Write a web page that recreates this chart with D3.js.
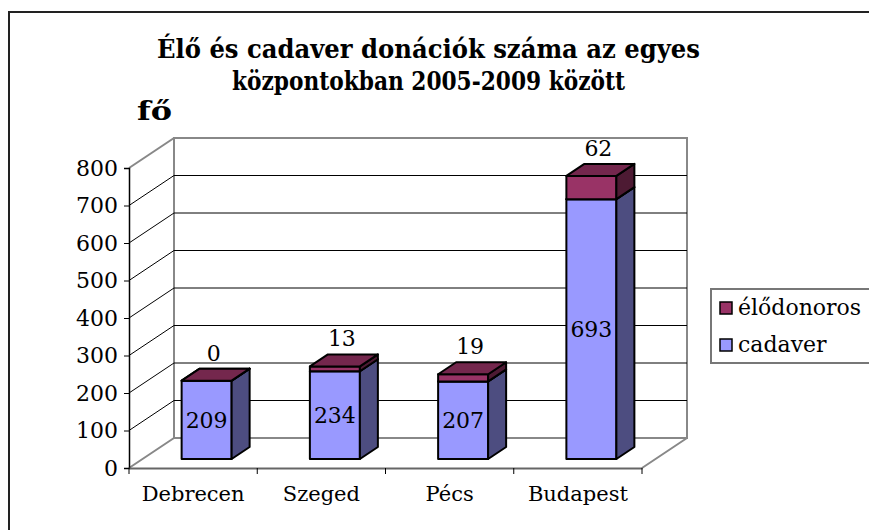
<!DOCTYPE html>
<html>
<head>
<meta charset="utf-8">
<script src="https://cdn.jsdelivr.net/npm/d3@7"></script>
<style>
  body { margin: 0; background: #fff; }
  svg { display: block; }
  text { font-family: "DejaVu Serif", serif; fill: #000; }
</style>
</head>
<body>
<svg id="chart"></svg>
<script>
// data
const categories = ["Debrecen", "Szeged", "Pécs", "Budapest"];
const cadaver    = [209, 234, 207, 693];
const elodonoros = [0, 13, 19, 62];
const seriesNames = ["cadaver", "élődonoros"];
const yTicks = [0, 100, 200, 300, 400, 500, 600, 700, 800];
const titleLines = ["Élő és cadaver donációk száma az egyes", "központokban 2005-2009 között"];

const width = 869, height = 530;
const depth = {dx: 45, dy: 30};        // wall depth
const barZ0 = 0.3, barZ1 = 0.7;       // bar sits between these depth fractions
const barW = 50;

const colors = {
  "cadaver":    {front: "#9999FF", side: "#4D4D80", top: "#7A7ACC"},
  "élődonoros": {front: "#993366", side: "#4D1A33", top: "#74274D"}
};

let svg = d3.select("#chart")
  .attr("width", width)
  .attr("height", height);

svg.append("rect")
  .attr("width", width).attr("height", height)
  .attr("fill", "#fff");

// outer chart frame (runs off the right and bottom edge like the picture)
svg.append("rect")
  .attr("x", 9).attr("y", 12)
  .attr("width", 900).attr("height", 600)
  .attr("fill", "none")
  .attr("stroke", "#222")
  .attr("stroke-width", 2);

let y = d3.scaleLinear().domain([0, 800]).range([468, 168]);
let x = d3.scaleBand().domain(categories).range([129, 642]);

const rows = categories.map((c, i) => ({key: c, "cadaver": cadaver[i], "élődonoros": elodonoros[i]}));
const stacked = d3.stack().keys(seriesNames)(rows);

// walls
const x0 = x.range()[0], x1 = x.range()[1];
const wall = svg.append("g").attr("fill", "none");

// back wall + side wall + floor outline
wall.append("path")
  .attr("d", `M${x0 + depth.dx},${y(0) - depth.dy}V${y(800) - depth.dy}H${x1 + depth.dx}V${y(0) - depth.dy}Z`)
  .attr("stroke", "#888").attr("stroke-width", 2);
wall.append("path")
  .attr("d", `M${x0},${y(800)}L${x0 + depth.dx},${y(800) - depth.dy}`)
  .attr("stroke", "#888").attr("stroke-width", 2);
wall.append("path")
  .attr("d", `M${x0},${y(0)}L${x0 + depth.dx},${y(0) - depth.dy}M${x1},${y(0)}L${x1 + depth.dx},${y(0) - depth.dy}`)
  .attr("stroke", "#888").attr("stroke-width", 2);

// gridlines
yTicks.filter(d => d > 0 && d < 800).forEach(function(v) {
  wall.append("path")
    .attr("d", `M${x0},${y(v)}L${x0 + depth.dx},${y(v) - depth.dy}H${x1 + depth.dx}`)
    .attr("stroke", "#000").attr("stroke-width", 1);
});

// y axis
let yAxis = d3.axisLeft(y).tickValues(yTicks).tickSize(5).tickPadding(6).tickFormat(d3.format("d"));
let gy = svg.append("g")
  .attr("transform", `translate(${x0},0)`)
  .call(yAxis);
gy.select(".domain").attr("stroke", "#000").attr("stroke-width", 1.5);
gy.selectAll(".tick line").attr("stroke", "#000");
gy.selectAll(".tick text")
  .style("font-family", "DejaVu Serif").style("font-size", "22px").attr("fill", "#000");

// x axis: labels at band centres, ticks between categories
let xAxis = d3.axisBottom(x).tickSize(0).tickPadding(18);
let gx = svg.append("g")
  .attr("transform", `translate(0,${y(0)})`)
  .call(xAxis);
gx.select(".domain").attr("stroke", "#666").attr("stroke-width", 2);
gx.selectAll(".tick text")
  .style("font-family", "DejaVu Serif").style("font-size", "21px").attr("fill", "#000");
gx.selectAll(".sep")
  .data(d3.range(categories.length + 1))
  .enter().append("line")
  .attr("x1", i => x0 + i * x.step()).attr("x2", i => x0 + i * x.step())
  .attr("y1", 0).attr("y2", 6)
  .attr("stroke", "#000");

// bars
const bdx = (barZ1 - barZ0) * depth.dx, bdy = (barZ1 - barZ0) * depth.dy;
function frontX(cat) { return x(cat) + x.bandwidth() / 2 - barW / 2 + barZ0 * depth.dx; }

let bars = svg.append("g")
  .attr("stroke", "#000").attr("stroke-width", 2).attr("stroke-linejoin", "round");

categories.forEach(function(cat, i) {
  stacked.forEach(function(s) {
    const d = s[i];
    const c = colors[s.key];
    const fx = frontX(cat);
    const yT = y(d[1]) - barZ0 * depth.dy;
    const yB = y(d[0]) - barZ0 * depth.dy;
    bars.append("rect")
      .attr("x", fx).attr("y", yT)
      .attr("width", barW).attr("height", yB - yT)
      .attr("fill", c.front);
    bars.append("path")
      .attr("d", `M${fx + barW},${yT}L${fx + barW + bdx},${yT - bdy}V${yB - bdy}L${fx + barW},${yB}Z`)
      .attr("fill", c.side);
    bars.append("path")
      .attr("d", `M${fx},${yT}L${fx + bdx},${yT - bdy}H${fx + barW + bdx}L${fx + barW},${yT}Z`)
      .attr("fill", c.top);
  });
});

// value labels: cadaver inside front face, élődonoros above the bar
let labels = svg.append("g").style("font-size", "22px").attr("text-anchor", "middle");
categories.forEach(function(cat, i) {
  const fx = frontX(cat);
  const base = stacked[0][i];
  labels.append("text")
    .attr("x", fx + barW / 2)
    .attr("y", (y(base[0]) + y(base[1])) / 2 - barZ0 * depth.dy)
    .attr("dy", "0.36em")
    .text(cadaver[i]);
  const top = stacked[1][i];
  labels.append("text")
    .attr("x", fx + barW / 2 + 7)
    .attr("y", y(top[1]) - barZ0 * depth.dy - 20)
    .text(elodonoros[i]);
});

// title
let title = svg.append("g").style("font-weight", "bold").style("font-size", "26px");
title.append("text").attr("x", 157).attr("y", 58)
  .attr("textLength", 543).attr("lengthAdjust", "spacingAndGlyphs")
  .text(titleLines[0]);
title.append("text").attr("x", 232).attr("y", 90)
  .attr("textLength", 393).attr("lengthAdjust", "spacingAndGlyphs")
  .text(titleLines[1]);
title.append("text").attr("x", 137).attr("y", 120)
  .attr("textLength", 35).attr("lengthAdjust", "spacingAndGlyphs")
  .text("fő");

// legend
let legend = svg.append("g");
legend.append("rect")
  .attr("x", 711).attr("y", 289).attr("width", 200).attr("height", 74)
  .attr("fill", "#fff").attr("stroke", "#777").attr("stroke-width", 2);
const legendOrder = ["élődonoros", "cadaver"];
let li = legend.selectAll(".item")
  .data(legendOrder)
  .enter().append("g")
  .attr("class", "item")
  .attr("transform", (d, i) => `translate(720,${302 + i * 37})`);
li.append("rect")
  .attr("width", 12).attr("height", 12)
  .attr("fill", d => colors[d].front)
  .attr("stroke", "#000").attr("stroke-width", 1.5);
li.append("text")
  .attr("x", 18).attr("y", 13)
  .style("font-size", "22px")
  .text(d => d);
</script>
</body>
</html>
